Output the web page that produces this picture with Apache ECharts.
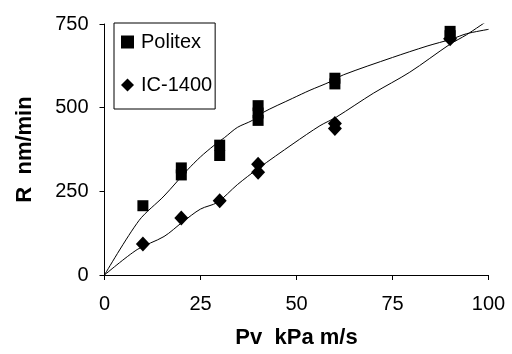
<!DOCTYPE html>
<html>
<head>
<meta charset="utf-8">
<script src="https://cdn.jsdelivr.net/npm/echarts@6/dist/echarts.min.js"></script>
<style>html,body{margin:0;padding:0;background:#fff;}#c{width:512px;height:354px;}</style>
</head>
<body>
<div id="c"></div>
<script>
// Measured data
var politexPts = [[10,207],[20,320],[20,299],[30,388],[30,357],[40,506],[40,484],[40,462],[60,588],[60,571],[90,728],[90,715]];
var ic1400Pts = [[10,93],[20,170],[30,222],[40,331],[40,307],[60,453],[60,438],[90,706]];
// Hand-read smoothed fit curves
var politexFit = [[0,0],[9,163],[15.5,236],[21.6,314],[25,353],[28.5,387],[31.3,411],[34.6,441],[38.5,462],[41,484],[49,528],[53.5,552],[58.7,577],[62.2,598],[75,650],[84,684],[90.4,705],[94.3,721],[100,734]];
var ic1400Fit = [[0,0],[8.5,76],[15.5,115],[20.3,158],[25,197],[29.4,217],[34.6,270],[40,318],[49.1,392],[56.1,446],[60.4,472],[70,543],[79.5,606],[89.9,689],[94.3,718],[100,762]];
var xTicks = [0,25,50,75,100];
var yTicks = [0,250,500,750];
var seriesNames = ['Politex','IC-1400'];

var font = 'Liberation Sans, Arial, sans-serif';
var chart = echarts.init(document.getElementById('c'), null, {renderer:'canvas'});
chart.setOption({
  animation: false,
  backgroundColor: '#fff',
  grid: {left: 104.5, top: 24, width: 384, height: 257},
  legend: {
    orient: 'vertical',
    left: 114, top: 23,
    padding: [9, 3, 14, 7],
    itemGap: 23,
    itemWidth: 13, itemHeight: 13,
    borderColor: '#000', borderWidth: 1,
    backgroundColor: '#fff',
    data: [{name: seriesNames[0], icon: 'rect', itemStyle: {color: '#000', opacity: 1}},
           {name: seriesNames[1], icon: 'diamond', itemStyle: {color: '#000', opacity: 1}}],
    textStyle: {fontFamily: font, fontSize: 20, color: '#000', lineHeight: 20, padding: [0,0,0,2]}
  },
  xAxis: {
    type: 'value', min: xTicks[0], max: xTicks[xTicks.length-1], interval: 25,
    axisLine: {show: true, onZero: false, lineStyle: {color: '#000', width: 1}},
    axisTick: {show: true, inside: false, length: 5, lineStyle: {color: '#000'}},
    splitLine: {show: false},
    axisLabel: {fontFamily: font, fontSize: 20, color: '#000', margin: 19},
    name: 'Pv  kPa m/s', nameLocation: 'middle', nameGap: 52,
    nameTextStyle: {fontFamily: font, fontSize: 22, fontWeight: 'bold', color: '#000'}
  },
  yAxis: {
    type: 'value', min: yTicks[0], max: yTicks[yTicks.length-1], interval: 250,
    axisLine: {show: true, onZero: false, lineStyle: {color: '#000', width: 1}},
    axisTick: {show: true, inside: false, length: 5, lineStyle: {color: '#000'}},
    splitLine: {show: false},
    axisLabel: {fontFamily: font, fontSize: 20, color: '#000', margin: 16},
    name: 'R  nm/min', nameLocation: 'middle', nameGap: 69, nameRotate: 90,
    nameTextStyle: {fontFamily: font, fontSize: 22, fontWeight: 'bold', color: '#000'}
  },
  series: [
    {name: 'PolitexFit', type: 'line', data: politexFit, smooth: 0.3, showSymbol: false, silent: true,
     lineStyle: {color: '#000', width: 1}, z: 1},
    {name: 'IC1400Fit', type: 'line', data: ic1400Fit, smooth: 0.3, showSymbol: false, silent: true,
     lineStyle: {color: '#000', width: 1}, z: 1},
    {name: seriesNames[0], type: 'scatter', data: politexPts, symbol: 'rect', symbolSize: 11,
     itemStyle: {color: '#000', opacity: 1}, z: 3},
    {name: seriesNames[1], type: 'scatter', data: ic1400Pts, symbol: 'diamond', symbolSize: [14,15],
     itemStyle: {color: '#000', opacity: 1}, z: 3}
  ]
});
</script>
</body>
</html>
